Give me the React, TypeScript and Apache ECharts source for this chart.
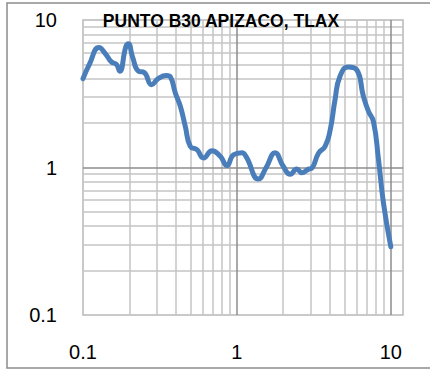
import React, { useEffect, useRef } from "react";
import * as echarts from "echarts";

const title = "PUNTO B30 APIZACO, TLAX";

const freq = [
  0.1, 0.11, 0.127, 0.14, 0.153, 0.165, 0.173, 0.19, 0.197, 0.21, 0.229, 0.25,
  0.279, 0.308, 0.349, 0.37, 0.398, 0.429, 0.462, 0.498, 0.55, 0.607, 0.689,
  0.78, 0.861, 0.951, 1.077, 1.15, 1.38, 1.55, 1.77, 2.0, 2.22, 2.45, 2.64,
  2.92, 3.07, 3.39, 3.74, 4.04, 4.34, 4.67, 5.3, 6.0, 6.64, 7.16, 7.71, 8.32,
  8.96, 10,
];
const amp = [
  4.0, 5.0, 6.5, 5.9, 5.2, 5.0, 4.5, 6.6, 6.9, 5.6, 4.5, 4.4,
  3.64, 4.0, 4.2, 4.1, 3.2, 2.6, 1.9, 1.39, 1.32, 1.16, 1.3,
  1.19, 1.03, 1.22, 1.26, 1.18, 0.835, 1.0, 1.26, 1.02, 0.9, 0.975, 0.92,
  0.975, 0.99, 1.25, 1.39, 1.8, 2.88, 4.14, 4.8, 4.6, 3.03, 2.4, 2.05, 1.13,
  0.574, 0.29,
];

const xTickLabels = ["0.1", "1", "10"];
const yTickLabels = ["0.1", "1", "10"];

const xGridMinor = [
  0.2, 0.3, 0.4, 0.5, 0.6, 0.7, 0.8, 0.9, 2, 3, 4, 5, 6, 7, 8, 9,
];
const xGridMajor = [1, 10];
const yGridMinor = [
  0.2, 0.3, 0.4, 0.5, 0.6, 0.7, 0.8, 0.9, 2, 3, 4, 5, 6, 7, 8, 9,
];
const yGridMajor = [1];

const labelFor = (labels: string[]) => (v: number) => {
  const l = Math.log10(v);
  const r = Math.round(l);
  if (Math.abs(l - r) > 1e-6) return "";
  return labels[r + 1] ?? "";
};

export default function App() {
  const ref = useRef<HTMLDivElement>(null);
  useEffect(() => {
    if (!ref.current) return;
    const chart = echarts.init(ref.current, undefined, { renderer: "svg" });
    const minorStyle = { color: "#c4c4c4", width: 1.5, type: "solid" as const };
    const majorStyle = { color: "#8c8c8c", width: 1.5, type: "solid" as const };
    const gridLines = [
      ...xGridMinor.map((v) => ({ xAxis: v, lineStyle: minorStyle })),
      ...yGridMinor.map((v) => ({ yAxis: v, lineStyle: minorStyle })),
      ...xGridMajor.map((v) => ({ xAxis: v, lineStyle: majorStyle })),
      ...yGridMajor.map((v) => ({ yAxis: v, lineStyle: majorStyle })),
    ];
    const pts = freq.map((f, i) => [f, amp[i]]);
    chart.setOption({
      animation: false,
      grid: {
        left: 83,
        top: 20,
        width: 320,
        height: 295,
        show: true,
        borderColor: "#b8b8b8",
        borderWidth: 1.5,
      },
      graphic: [
        {
          type: "rect",
          shape: { x: 7, y: 3, width: 440, height: 365 },
          style: { fill: "none", stroke: "#8c8c8c", lineWidth: 1.5 },
          z: -10,
          silent: true,
        },
        {
          type: "text",
          x: 221,
          y: 21,
          z: 100,
          style: {
            text: title,
            fill: "#000",
            font: "bold 17.5px 'Liberation Sans', Arial, sans-serif",
            align: "center",
            verticalAlign: "middle",
          },
          silent: true,
        },
      ],
      xAxis: {
        type: "log",
        logBase: 10,
        min: 0.1,
        max: 12,
        axisLine: { show: false },
        axisTick: { show: false },
        splitLine: { show: false },
        axisLabel: {
          margin: 27,
          color: "#000",
          fontSize: 20,
          fontFamily: "'Liberation Sans', Arial, sans-serif",
          formatter: labelFor(xTickLabels),
          showMinLabel: true,
          showMaxLabel: true,
        },
      },
      yAxis: {
        type: "log",
        logBase: 10,
        min: 0.1,
        max: 10,
        axisLine: { show: false },
        axisTick: { show: false },
        splitLine: { show: false },
        axisLabel: {
          margin: 26,
          color: "#000",
          fontSize: 20,
          fontFamily: "'Liberation Sans', Arial, sans-serif",
          formatter: labelFor(yTickLabels),
        },
      },
      series: [
        {
          type: "line",
          data: pts,
          showSymbol: false,
          symbol: "none",
          lineStyle: { opacity: 0, width: 0 },
          z: 1,
          silent: true,
          markLine: {
            silent: true,
            symbol: "none",
            label: { show: false },
            emphasis: { disabled: true },
            data: gridLines,
          },
        },
        {
          type: "line",
          data: pts,
          smooth: 0.5,
          showSymbol: false,
          symbol: "none",
          lineStyle: { color: "#4a7ebb", width: 5, cap: "round", join: "round" },
          z: 5,
          silent: true,
        },
      ],
    });
    return () => chart.dispose();
  }, []);
  return (
    <div
      ref={ref}
      style={{ position: "absolute", left: 0, top: 0, width: 430, height: 371, background: "#fff" }}
    />
  );
}
